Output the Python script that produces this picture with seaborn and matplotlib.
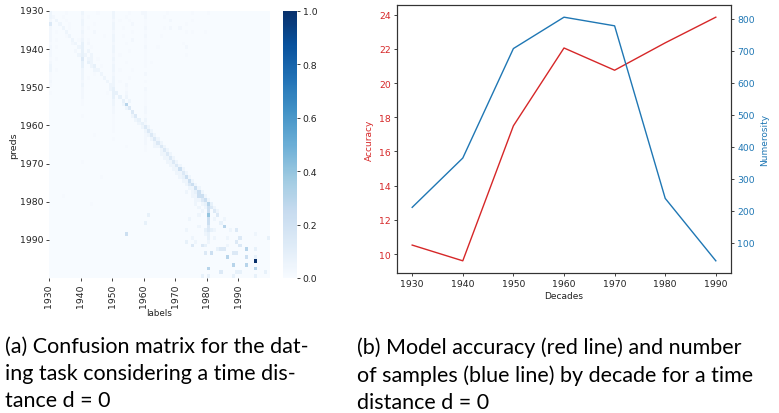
import numpy as np
import pandas as pd
import seaborn as sns
import matplotlib.pyplot as plt

# confusion matrix, rows = preds, cols = labels (1930..1999)
# each char is an intensity level
years = list(range(1930, 2000))
levels = {'.': 0.0, '1': 0.015, '2': 0.03, '3': 0.05, '4': 0.08, '5': 0.14,
          '6': 0.22, '7': 0.30, '8': 0.40, '9': 0.50, 'X': 1.0}
cm_rows = [
    "3....1.... 3....1.... 3....1...2 2......1.. .....1.... 1......... ..........",
    "32..1..... 2.1....... 3...1..... 2.....1... .......... .......... ..........",
    "2.3..1.... 3......... 2.1..1.... 1.......2. .....1.... .......... ..........",
    "5..3..1... 3...1..... 3.....2... 1......... ...1...... .......... ..........",
    "2...3.1... 2.1....... 3..1...... 2.....1.2. .2........ .......... ..........",
    "2.1..3.... 3...2..... 2.....1... 1......... ...1.1...1 .......... ..........",
    "2....13... 2......1.. 3..1...... 2....1.... .......... .......... ..........",
    "2.1....3.1 3.1....... 3.....2... 1......... .......... .......... ..........",
    "1......23. 4.2....... 2...1..... 1......... ..1....... .......... ..........",
    "2.1......3 4..1...... 3......... 2...1..... ...2...... .......... ..........",
    "2.......2. 4.3....... 3....1.... 1......... .......... .......... ..........",
    "2........3 43.3...... 2.1....... 1......... ...1...... .......... ..........",
    "1.1....... 5.33.1.... 3......... 1......... .......... .......... ..........",
    "2......... 4.43...... 2...1..... 1.1....... .......... .......... ..........",
    "3......... 4..34.1... 3......... 1......... .......... .......... ..........",
    "3.1....... 3...33.... 3.1...1... .......... .......... .......... ..........",
    "1......... 3...1.3... 2......... 2......... .......... .......... ..........",
    "1......... 3.1....3.. 3....1.... .......... .......... .......... ..........",
    "2......... 2.......3. 3.1....... 1......... .......... .......... ..........",
    "1......... 3........3 3...2..... .......... .......... .......... ..........",
    ".......... 2........3 4...1..... 2......... .......... .......... ..........",
    "1......... 2.......1. 44..2..... 1......... .......... .......... ..........",
    ".......... 2......... 4.4.3..... 1......... .......... .......... ..........",
    ".......... 1......... 3..4.3.... 1......... .......... .......... ..........",
    ".......... 1......... 3..37..... 1......... .......... .......... ..........",
    ".......... .......... 2...35.... 2......... .......... .......... ..........",
    ".......... .......... 2.....5... 2......... .......... .......... ..........",
    ".......... 1......... 1.....35.. 1......... .......... .......... ..........",
    ".......... .......... 1......34. 3......... .......... .......... ..........",
    ".......... .......... 1.......34 2......... .......... .......... ..........",
    ".......... .......... 1........3 53........ .......... .......... ..........",
    ".......... .......... 1......... 353....... .......... .......... ..........",
    ".......... ....1..... .......... 2353...... .......... .......... ..........",
    ".......... .......... 1......... 2.353..... .......... .......... ..........",
    ".......... .......... .......... 2..353.... .......... .......... ..........",
    ".......... .......... ....1..... 1..3353... .......... .......... ..........",
    ".......... .......... .......... 1....353.. .......... .......... ..........",
    ".......... .......... .......... .....3353. .......... .......... ..........",
    ".......... .......... .......... ......3353 .......... .......... ..........",
    ".......... 1......... .......... .......335 3......... .......... ..........",
    ".......... .......... .......... ........33 53........ .......... ..........",
    ".......... .......... .......... .........3 363....... .......... ..........",
    ".......... .......... .......... .......... 3353...... .......... ..........",
    ".......... ......1... .......... .......... .3463..... .......... ..........",
    ".......... .......... .......... .......... ..3363.... .......... ..........",
    ".......... .......... .......... .......... ...3563... .......... ..........",
    ".......... .......... .......... .......... ....3363.. .......... ..........",
    ".......... .......... .......... .......... ...3.3463. .......... ..........",
    "....1..... .......... .......... .......... .....33663 .......... ..........",
    ".......... .......... .......... .......... ......3356 3......... ..........",
    ".......... ...1...... .......... .......... ......3.34 74........ ..........",
    ".......... .......... .......... .......... .......3.3 653....... ..........",
    ".......... .......... .......... .......... ........3. 6.53...... ..........",
    ".......... .......... .......... .4........ .......3.. 8..5...... ..........",
    ".......... .......... .......... .......... ....3..... 6.3..3.... ..........",
    ".......... .......... .......... 4......... .......... 6...4..... ..........",
    ".......... .......... .......... .......... .......3.. 5....7.... ..........",
    ".......... .......... .......... .......... ...3.....4 543....3.5 ..........",
    ".......... .......... ....6..... .......... .........3 4......... .....3....",
    ".......... .......... .......... .......... .....3.... 4.3...3... 5........4",
    ".......... .......... .......... .......... ...4..3... 3........5 ..........",
    ".......... .......... .......... .......... .....5..54 ......3... 5.........",
    ".......... .......... .......... .......... .......... ...455.... ..7..4....",
    ".......... .......... .......... .......... .........5 .6......55 ..........",
    ".......... .......... .......... .......... .......... ......7... ..6..4....",
    ".......... .......... .......... .......... .......... .......... .....X....",
    ".......... .......... .......... .......... .......... ........7. ..7.......",
    ".......... .......... .......... .......... .......... 7......... .....7....",
    ".......... .......... .......... .......... .......... ....5....4 4.......4.",
    ".......... .......... .......... .......... ........4. 4.......4. .....4....",
]

# accuracy / numerosity by decade
decades = [1930, 1940, 1950, 1960, 1970, 1980, 1990]
accuracy = [10.53, 9.61, 17.5, 22.05, 20.75, 22.35, 23.85]
numerosity = [211, 365, 707, 805, 778, 239, 44]

cap_a = "(a) Confusion matrix for the dat-\ning task considering a time dis-\ntance d = 0"
cap_b = "(b) Model accuracy (red line) and number\nof samples (blue line) by decade for a time\ndistance d = 0"

grid = []
for r in cm_rows:
    r = r.replace(' ', '').ljust(70, '.')[:70]
    grid.append([levels[c] for c in r])
cm = pd.DataFrame(grid, index=years, columns=years)

fig = plt.figure(figsize=(7.79, 4.14), dpi=100)
W, H = 779, 414


def box(x0, y0, x1, y1):
    return [x0 / W, 1 - y1 / H, (x1 - x0) / W, (y1 - y0) / H]


tick_fs = 6.7
txt = '#222222'

# --- (a) heatmap
ax1 = fig.add_axes(box(49, 12, 270, 279))
cax = fig.add_axes(box(283, 12, 297, 279))
sns.heatmap(cm, cmap='Blues', vmin=0, vmax=1, ax=ax1, cbar_ax=cax)
ticks = np.arange(0, 70, 10)
ax1.set_xticks(ticks)
ax1.set_xticklabels([str(y) for y in years[::10]], rotation=90, fontsize=tick_fs, color=txt)
ax1.set_yticks(ticks)
ax1.set_yticklabels([str(y) for y in years[::10]], rotation=0, fontsize=tick_fs, color=txt)
ax1.tick_params(length=2.5, width=0.6, colors=txt, pad=1.5)
ax1.set_xlabel('labels', fontsize=6.3, color=txt, labelpad=1)
ax1.set_ylabel('preds', fontsize=6.8, color=txt, labelpad=1)
cax.set_yticks(np.arange(0, 1.01, 0.2))
cax.tick_params(labelsize=tick_fs, length=2.5, width=0.6, colors=txt, pad=1.5)

# --- (b) accuracy + numerosity
ax2 = fig.add_axes(box(397, 6, 731, 274))
ax3 = ax2.twinx()
sns.lineplot(x=decades, y=accuracy, ax=ax2, color='tab:red', linewidth=1.0)
sns.lineplot(x=decades, y=numerosity, ax=ax3, color='tab:blue', linewidth=1.0)
ax2.set_xticks(decades)
ax2.set_xlabel('Decades', fontsize=6.5, color=txt, labelpad=2)
ax2.set_ylabel('Accuracy', fontsize=6.5, color='tab:red', labelpad=4)
ax3.set_ylabel('Numerosity', fontsize=6.5, color='tab:blue', labelpad=4)
ax2.tick_params(axis='x', labelsize=tick_fs, length=2.5, width=0.6, colors=txt, pad=2)
ax2.tick_params(axis='y', labelsize=tick_fs, length=2.5, width=0.6, color=txt,
                labelcolor='tab:red', pad=2)
ax3.tick_params(axis='y', labelsize=tick_fs, length=2.5, width=0.6, color=txt,
                labelcolor='tab:blue', pad=2)
for a in (ax2, ax3):
    for s in a.spines.values():
        s.set_color('#333333')
        s.set_linewidth(0.8)

# --- captions
cap_font = ['Lato', 'DejaVu Sans']
fig.text(5 / W, 1 - 337 / H, cap_a, family=cap_font, fontsize=15.5, va='top',
         linespacing=1.45)
fig.text(357 / W, 1 - 337 / H, cap_b, family=cap_font, fontsize=15.5, va='top',
         linespacing=1.45)

fig.savefig('out.png', dpi=100)
